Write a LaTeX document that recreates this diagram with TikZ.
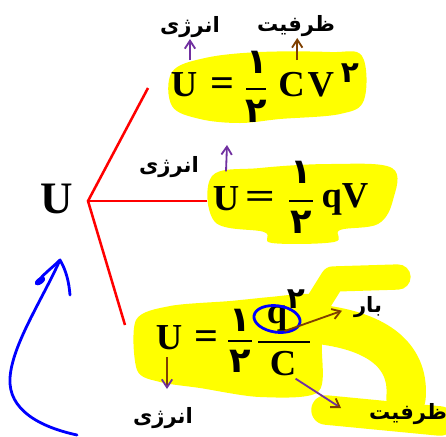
\documentclass[tikz,border=0pt]{standalone}
\usepackage{graphicx}
\usepackage{fontspec}
\setmainfont{Liberation Serif}
\newfontfamily\fafont[Script=Arabic]{DejaVu Sans}
\TeXXeTstate=1
\usetikzlibrary{arrows.meta, positioning, calc}
\definecolor{hiyellow}{HTML}{FFFF00}
\definecolor{redline}{HTML}{FF0000}
\definecolor{penblue}{HTML}{0000FF}
\definecolor{arrbrown}{HTML}{7F3F00}
\definecolor{arrpurple}{HTML}{7030A0}
\newcommand{\wideeq}{\scalebox{1.45}[1]{=}}
\newcommand{\normeq}{\scalebox{1.15}[1.1]{=}}

\begin{document}
\begin{tikzpicture}[
    x=0.025cm, y=-0.025cm,
    every node/.style={inner sep=0pt, outer sep=1pt},
    eqn/.style={font=\fontsize{26}{30}\selectfont\bfseries},
    bigu/.style={font=\fontsize{32}{36}\selectfont\bfseries},
    digit/.style={font=\fontsize{25}{28}\selectfont\fafont\bfseries},
    supdigit/.style={font=\fontsize{21}{24}\selectfont\fafont\bfseries},
    farsi/.style={font=\fontsize{15}{18}\selectfont\fafont\bfseries},
    fracbar/.style={line width=1.4pt},
    branch/.style={draw=redline, line width=1.8pt},
    arrb/.style={-{Straight Barb[length=2mm, width=2.6mm]}, draw=arrbrown, line width=1.3pt},
    arrp/.style={-{Straight Barb[length=2mm, width=2.6mm]}, draw=arrpurple, line width=1.3pt},
    hilite/.style={fill=hiyellow, draw=none},
    hstroke/.style={draw=hiyellow, line cap=round, line join=round},
    pen/.style={draw=penblue, line width=2pt, line cap=round, line join=round}
]
    \useasboundingbox (0,0) rectangle (446,436);

    % highlighter
    \fill[hilite] plot[smooth cycle, tension=0.6] coordinates {(172,72) (205,58) (260,52) (330,52) (362,56) (364,100) (340,114) (280,119) (240,123) (200,119) (172,106)};
    \fill[hilite] plot[smooth cycle, tension=0.6] coordinates {(212,176) (260,168) (330,164) (392,168) (393,200) (378,224) (340,230) (334,242) (272,243) (264,232) (215,222)};
    \fill[hilite] plot[smooth cycle, tension=0.5] coordinates {(136,320) (170,306) (230,301) (270,297) (310,294) (326,305) (322,345) (318,392) (260,397) (200,388) (160,382) (137,370)};
    \draw[hstroke, line width=18] (318,303) -- (333,279) -- (398,277);
    \draw[hstroke, line width=28] (316,324) .. controls (372,330) and (410,352) .. (406,398);
    \draw[hstroke, line width=21] (326,410) -- (440,421);

    % branches
    \node[bigu] (ubig) at (57,199) {U};
    \coordinate (j) at (88,201);
    \coordinate (b1) at (148,88);
    \coordinate (b2) at (207,201);
    \coordinate (b3) at (125,325);
    \draw[branch] (b1) -- (j) -- (b3);
    \draw[branch] (j) -- (b2);

    % U = 1/2 C V^2
    \node[eqn] (u1) at (184,85) {U};
    \node[eqn] (eq1) at (222,87) {\normeq};
    \node[digit] (n1) at (257,62) {۱};
    \node[digit] (d1) at (256,111) {۲};
    \draw[fracbar] (246,89) -- (266,89);
    \node[eqn, anchor=west] (c1) at (277,85) {C};
    \node[eqn, right=0pt of c1] (v1) {V};
    \node[supdigit] (s1) at (350,73) {۲};
    \node[farsi] (en1) at (190,27) {\beginR انرژی\endR};
    \node[farsi] (cap1) at (296,26) {\beginR ظرفیت\endR};
    \draw[arrp] ([yshift=8]u1.north -| en1) -- (en1.south);
    \draw[arrb] ([shift={(4pt,8pt)}]c1.north) -- ([xshift=4pt]c1.north |- cap1.south);

    % U = 1/2 q V
    \node[eqn] (u2) at (226,199) {U};
    \node[eqn] (eq2) at (260,200) {\wideeq};
    \node[digit] (n2) at (301,172) {۱};
    \node[digit] (d2) at (301,222) {۲};
    \draw[fracbar] (289,201) -- (313,201);
    \node[eqn] (qv2) at (345,199) {qV};
    \node[farsi] (en2) at (169,167) {\beginR انرژی\endR};
    \coordinate (t2) at (227,145);
    \draw[arrp] ([yshift=10]u2.north) -- (t2);

    % U = 1/2 q^2 / C
    \node[eqn] (u3) at (169,338) {U};
    \node[eqn] (eq3) at (206,340) {\normeq};
    \node[digit] (n3) at (240,320) {۱};
    \node[digit] (d3) at (240,361) {۲};
    \draw[fracbar] (228,341) -- (252,341);
    \node[eqn] (q3) at (277,319) {q};
    \node[supdigit] (s3) at (296,299) {۲};
    \draw[fracbar] (258,342) -- (310,342);
    \node[eqn] (c3) at (283,364) {C};
    \draw[pen] (q3) ellipse [x radius=0.58cm, y radius=0.33cm, rotate=-8];
    \node[farsi] (bar3) at (368,307) {\beginR بار\endR};
    \node[farsi] (cap3) at (408,414) {\beginR ظرفیت\endR};
    \node[farsi] (en3) at (163,418) {\beginR انرژی\endR};
    \coordinate (t3) at (341,408);
    \coordinate (t4) at (167,389);
    \draw[arrb, shorten >=8pt] ([shift={(-4,-2)}]q3.south east) -- (bar3.west);
    \draw[arrp, -{Straight Barb[length=2mm, width=2.6mm, color=arrbrown]}] ([shift={(-2,1)}]c3.south east) -- (t3);
    \draw[arrb, -{Straight Barb[length=2mm, width=2.6mm, color=arrpurple]}] ([yshift=-4]u3.south -| t4) -- (t4);

    % blue pen stroke
    \draw[pen] (77,435) .. controls (40,427) and (8,410) .. (10,378)
        .. controls (12,345) and (42,300) .. (60,260);
    \draw[pen] (37,283) .. controls (42,275) and (52,268) .. (60,260)
        .. controls (66,270) and (69,282) .. (70,295);
    \fill[penblue] (40,281) ellipse [x radius=0.15cm, y radius=0.08cm, rotate=35];
\end{tikzpicture}
\end{document}
